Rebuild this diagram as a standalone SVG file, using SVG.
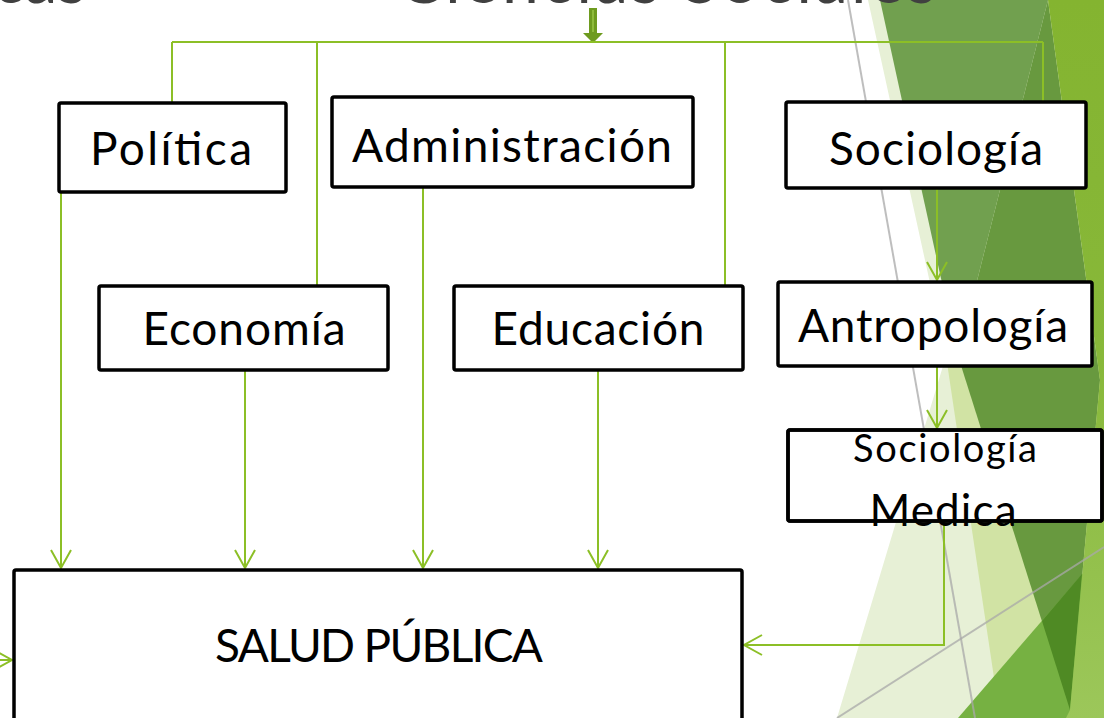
<svg xmlns="http://www.w3.org/2000/svg" width="1104" height="718" viewBox="0 0 1104 718">
<defs>
<style>
.box{fill:#fff;stroke:#000;stroke-width:3.5}
.frame{fill:none;stroke:#000;stroke-width:3.5}
.lbl{font-family:Lato,"Liberation Sans",sans-serif;fill:#000;text-anchor:middle}
.c{fill:none;stroke:#8cbf26;stroke-width:2}
.ca{fill:none;stroke:#8cbf26;stroke-width:2;marker-end:url(#ah)}
.title{font-family:Lato,"Liberation Sans",sans-serif;fill:#404040;font-size:66px}
.gl{stroke:#a8a8a8;stroke-width:2;opacity:0.75;fill:none}
</style>
<marker id="ah" markerUnits="userSpaceOnUse" viewBox="-20 -12 22 24" markerWidth="22" markerHeight="24" refX="0" refY="0" orient="auto" overflow="visible"><path d="M-18,-10 L0,0 L-18,10" fill="none" stroke="#8cbf26" stroke-width="2"/></marker>
<linearGradient id="rs" x1="0" y1="0" x2="0" y2="1"><stop offset="0" stop-color="#84b430"/><stop offset="0.5" stop-color="#88b83a"/><stop offset="1" stop-color="#9cc75a"/></linearGradient>
</defs>
<g id="background">
<polygon points="868,0 1104,0 1104,718 837,718 946,356" fill="#e7f0d6"/>
<polygon points="946,356 1000,718 1104,718 1104,356" fill="#d1e3a4"/>
<polygon points="880,0 1048,0 958,356" fill="#71a04f"/>
<polygon points="1048,0 1100,380 1070,710 958,356" fill="#68993f"/>
<polygon points="958,718 1104,549 1104,718" fill="#76b142"/>
<polygon points="1042,621 1082,574 1070,710" fill="#4f8a24"/>
<polygon points="1048,0 1104,0 1104,718 1066,718 1070,710 1100,380" fill="url(#rs)"/>
<line class="gl" x1="848" y1="0" x2="975" y2="718"/>
<line class="gl" x1="837" y1="718" x2="1104" y2="547"/>
</g>
<g id="titles">
<text class="title" x="86" y="3" text-anchor="end">Ciencias Básicas</text>
<text class="title" x="398" y="3" textLength="538">Ciencias Sociales</text>
</g>
<g id="top-arrow">
<polygon points="589,8 597,8 597,33 603,33 593,43 583,33 589,33" fill="#6e9b1f"/>
<line x1="593" y1="10" x2="593" y2="32" stroke="#8fbb3c" stroke-width="2"/>
</g>
<g id="connectors">
<path class="c" d="M172,42 H1043"/>
<path class="c" d="M172,42 V103"/>
<path class="c" d="M317,42 V286"/>
<path class="c" d="M725,42 V286"/>
<path class="c" d="M1043,42 V101"/>
<path class="ca" d="M61,193 V568"/>
<path class="ca" d="M245,370 V568"/>
<path class="ca" d="M423,187 V568"/>
<path class="ca" d="M598,370 V568"/>
<path class="ca" d="M937,188 V280"/>
<path class="ca" d="M937,366 V428"/>
<path class="ca" d="M944,521 V645 H744"/>
<path class="ca" d="M-10,660 H12"/>
</g>
<g id="politica">
<rect class="box" x="59" y="103" width="227" height="89" rx="2"/>
<text class="lbl" x="171" y="165" font-size="46" textLength="162">Política</text>
</g>
<g id="administracion">
<rect class="box" x="332" y="97" width="361" height="90" rx="2"/>
<text class="lbl" x="512" y="162" font-size="46" textLength="320">Administración</text>
</g>
<g id="sociologia">
<rect class="box" x="786" y="102" width="300" height="86" rx="2"/>
<text class="lbl" x="936" y="165" font-size="46" textLength="214">Sociología</text>
</g>
<g id="economia">
<rect class="box" x="99" y="286" width="289" height="84" rx="2"/>
<text class="lbl" x="244" y="345" font-size="46" textLength="203">Economía</text>
</g>
<g id="educacion">
<rect class="box" x="454" y="286" width="289" height="84" rx="2"/>
<text class="lbl" x="598" y="345" font-size="46" textLength="213">Educación</text>
</g>
<g id="antropologia">
<rect class="box" x="778" y="282" width="314" height="84" rx="2"/>
<text class="lbl" x="933" y="342" font-size="46" textLength="270">Antropología</text>
</g>
<g id="sociologia-medica">
<rect class="box" x="788" y="430" width="314" height="91" rx="2"/>
<text class="lbl" x="945" y="462" font-size="38" textLength="184">Sociología</text>
<text class="lbl" x="943" y="526" font-size="44" textLength="147">Medica</text>
<rect class="frame" x="788" y="430" width="314" height="91" rx="2"/>
</g>
<g id="salud-publica">
<rect class="box" x="14" y="570" width="728" height="160" rx="2"/>
<text class="lbl" x="379" y="662" font-size="46" textLength="328">SALUD PÚBLICA</text>
</g>
</svg>
